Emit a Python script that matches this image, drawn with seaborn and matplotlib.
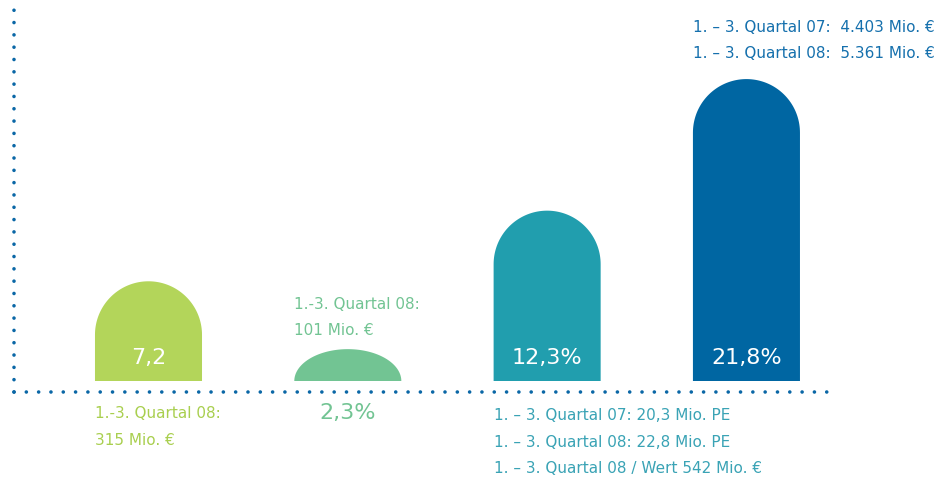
import numpy as np
import pandas as pd
import matplotlib
matplotlib.use("Agg")
import matplotlib.pyplot as plt
import seaborn as sns
from matplotlib.patches import Polygon

# values
categories = ["A", "B", "C", "D"]
values = [7.2, 2.3, 12.3, 21.8]
value_labels = ["7,2", "2,3%", "12,3%", "21,8%"]
bar_colors = ["#b3d55a", "#72c493", "#219eae", "#0066a2"]
text_colors = ["#a9cf4f", "#72c493", "#3aa3b5", "#1570ad"]

note_a = ["1.-3. Quartal 08:", "315 Mio. €"]
note_b = ["1.-3. Quartal 08:", "101 Mio. €"]
note_c = ["1. – 3. Quartal 07: 20,3 Mio. PE",
          "1. – 3. Quartal 08: 22,8 Mio. PE",
          "1. – 3. Quartal 08 / Wert 542 Mio. €"]
note_d = ["1. – 3. Quartal 07:  4.403 Mio. €",
          "1. – 3. Quartal 08:  5.361 Mio. €"]

sns.set_theme(style="white")
plt.rcParams['font.family'] = ['Liberation Sans Narrow', 'DejaVu Sans']

df = pd.DataFrame({"cat": categories, "val": values})

fig = plt.figure(figsize=(9.36, 4.79), dpi=100)
ax = fig.add_axes([0, 0, 1, 1])
sns.barplot(data=df, x="cat", y="val", hue="cat", palette=bar_colors,
            width=0.537, legend=False, ax=ax, saturation=1)
ax.set_xlim(-0.745, 3.951)
ax.set_ylim(-7.076, 27.51)
ax.axis("off")

# replace the flat bar tops by rounded caps
fig.canvas.draw()
px_x = ax.transData.transform((1, 0))[0] - ax.transData.transform((0, 0))[0]
px_y = ax.transData.transform((0, 1))[1] - ax.transData.transform((0, 0))[1]
for p in list(ax.patches):
    x0, w, h = p.get_x(), p.get_width(), p.get_height()
    ry = min(w / 2 * px_x / px_y, h)
    t = np.linspace(0, np.pi, 80)
    arc = np.column_stack([x0 + w / 2 + w / 2 * np.cos(t), h - ry + ry * np.sin(t)])
    pts = np.vstack([[x0, 0], [x0 + w, 0], arc, [x0, 0]])
    ax.add_patch(Polygon(pts, closed=True, facecolor=p.get_facecolor(), edgecolor="none"))
    p.remove()

# dotted axes
dot = dict(color="#0a67a6", lw=2.6, linestyle=(0, (0.01, 3.4)),
           dash_capstyle="round", transform=ax.transAxes, clip_on=False)
ax.plot([0.015, 0.887], [0.1816, 0.1816], **dot)
ax.plot([0.015, 0.015], [0.1816, 0.983], **dot)

# value labels
big = 16
for i, (v, lab) in enumerate(zip(values, value_labels)):
    if i == 1:
        ax.text(i, -2.3, lab, ha="center", va="center", fontsize=big, color=text_colors[i])
    else:
        ax.text(i, 1.66, lab, ha="center", va="center", fontsize=big, color="white")

small = 11
left = [i - 0.537 / 2 for i in range(4)]
for j, s in enumerate(note_a):
    ax.text(left[0], -2.38 - 1.95 * j, s, ha="left", va="center", fontsize=small, color=text_colors[0])
for j, s in enumerate(note_b):
    ax.text(left[1], 5.49 - 1.85 * j, s, ha="left", va="center", fontsize=small, color=text_colors[1])
for j, s in enumerate(note_c):
    ax.text(left[2], -2.52 - 1.9 * j, s, ha="left", va="center", fontsize=small, color=text_colors[2])
for j, s in enumerate(note_d):
    ax.text(left[3], 25.56 - 1.88 * j, s, ha="left", va="center", fontsize=small, color=text_colors[3])

fig.savefig("out.png", dpi=100)
